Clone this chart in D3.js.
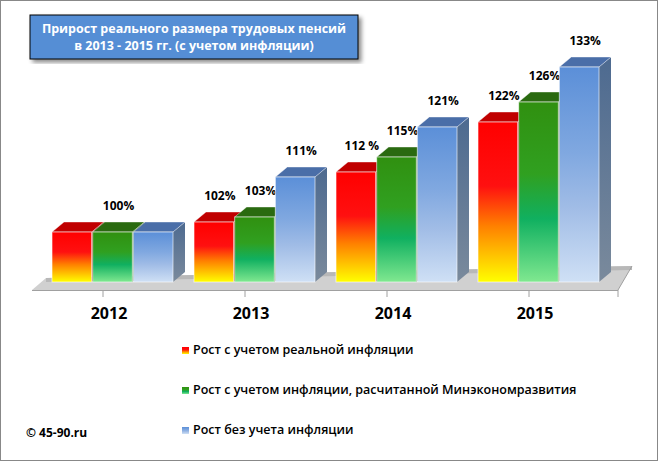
<!DOCTYPE html><html><head><meta charset="utf-8">
<script src="https://d3js.org/d3.v7.min.js"></script>
<style>body{margin:0;background:#fff}svg{display:block;font-family:"Open Sans",sans-serif}</style></head><body>
<script>
const years=["2012","2013","2014","2015"];
const seriesNames=["Рост с учетом реальной инфляции","Рост с учетом инфляции, расчитанной Минэкономразвития","Рост без учета инфляции"];
const real=[100,102,112,122];
const minec=[100,103,115,126];
const noinf=[100,111,121,133];
const labels=[["100%","",""],["102%","103%","111%"],["112 %","115%","121%"],["122%","126%","133%"]];
const W=658,H=461;
const svg=d3.select("body").append("svg").attr("width",W).attr("height",H);
svg.append("rect").attr("x",0.5).attr("y",0.5).attr("width",W-1).attr("height",H-1).attr("fill","#fff").attr("stroke","#888");
const defs=svg.append("defs");
const grads=[["#ffff00","#ff8000","#ff1010","#ff0000"],["#80e890","#10b060","#30a020","#309010"],["#cfe0f5","#a0bce6","#80a8e0","#5b8fd8"]];
grads.forEach((g,i)=>{const lg=defs.append("linearGradient").attr("id","g"+i).attr("x1",0).attr("y1",1).attr("x2",0).attr("y2",0);
[0,0.35,0.6,1].forEach((o,j)=>lg.append("stop").attr("offset",o).attr("stop-color",g[j]));});
const topC=["#c00000","#2a6a10","#4a6ea8"],sideC=["#a00000","#245a10","#5a7898"];
const sg=defs.append("linearGradient").attr("id","side").attr("x1",0).attr("y1",0).attr("x2",0).attr("y2",1);
sg.append("stop").attr("offset",0).attr("stop-color","#4d6a90");sg.append("stop").attr("offset",1).attr("stop-color","#7a8a9c");
const sh=defs.append("filter").attr("id","sh");sh.append("feDropShadow").attr("dx",3).attr("dy",3).attr("stdDeviation",2).attr("flood-opacity",0.45);
const x0=d3.scaleBand().domain(years).range([32,600]).paddingInner(0).paddingOuter(0);
const x1=d3.scaleBand().domain([0,1,2]).range([20,142]);
const y=d3.scaleLinear().domain([90,135]).range([282,57]);
const dx=12,dy=10,base=282;
svg.append("path").attr("d",`M32,290 L46,278 L632,266 L618,290 Z`).attr("fill","#d0d0d0");
svg.append("path").attr("d",`M46,278 L632,266 L632,270 L46,282 Z`).attr("fill","#b8b8b8");
svg.append("line").attr("x1",32).attr("x2",618).attr("y1",290.5).attr("y2",290.5).attr("stroke","#a0a0a0");
svg.append("path").attr("d",`M618,290 L632,266`).attr("stroke","#a0a0a0");
svg.append("g").attr("transform","translate(0,290)").call(d3.axisBottom(x0).tickSize(7).tickFormat(""))
 .call(g=>{g.select(".domain").remove();g.selectAll("line").attr("stroke","#a0a0a0");});
svg.append("line").attr("x1",618).attr("x2",618).attr("y1",290).attr("y2",297).attr("stroke","#a0a0a0");
const data=[real,minec,noinf];
years.forEach((yr,i)=>{
 [0,1,2].forEach(s=>{
  const bx=x0(yr)+x1(s),bw=x1.bandwidth()-1,ty=y(data[s][i]);
  const g=svg.append("g");
  g.append("path").attr("d",`M${bx+bw},${ty} L${bx+bw+dx},${ty-dy} L${bx+bw+dx},${base-dy} L${bx+bw},${base} Z`).attr("fill",s==2?"url(#side)":sideC[s]);
  g.append("path").attr("d",`M${bx},${ty} L${bx+dx},${ty-dy} L${bx+bw+dx},${ty-dy} L${bx+bw},${ty} Z`).attr("fill",topC[s]).attr("stroke","#fff").attr("stroke-opacity",0.4);
  g.append("rect").attr("x",bx).attr("y",ty).attr("width",bw).attr("height",base-ty).attr("fill",`url(#g${s})`).attr("stroke","#fff").attr("stroke-opacity",0.6);
  const lab=labels[i][s];
  if(lab) svg.append("text").attr("x",i==0?x0(yr)+x1(1)+bw/2+dx/2:bx+bw/2+dx/2).attr("y",ty-dy-12).attr("text-anchor","middle")
   .attr("font-size",12).attr("font-weight","bold").text(lab);
 });
 svg.append("text").attr("x",x0(yr)+x0.bandwidth()/2+6).attr("y",319).attr("text-anchor","middle").attr("font-size",16).attr("font-weight","bold").text(yr);
});
svg.append("rect").attr("x",30).attr("y",15).attr("width",328).attr("height",44).attr("fill","#558ed5").attr("stroke","#000").attr("filter","url(#sh)");
["Прирост реального размера трудовых пенсий","в 2013 - 2015 гг. (с учетом инфляции)"].forEach((t,i)=>
 svg.append("text").attr("x",194).attr("y",33+i*17).attr("text-anchor","middle").attr("fill","#fff").attr("font-size",12.5).attr("font-weight","bold").text(t));
seriesNames.forEach((n,i)=>{
 const ly=352+i*40;
 svg.append("rect").attr("x",182).attr("y",ly-5).attr("width",7).attr("height",7).attr("fill",`url(#g${i})`);
 svg.append("text").attr("x",193).attr("y",ly+2).attr("font-size",12.5).attr("font-weight",600).attr("fill","#000").text(n);
});
svg.append("text").attr("x",26).attr("y",437).attr("font-size",12).attr("font-weight","bold").text("© 45-90.ru");
</script></body></html>
